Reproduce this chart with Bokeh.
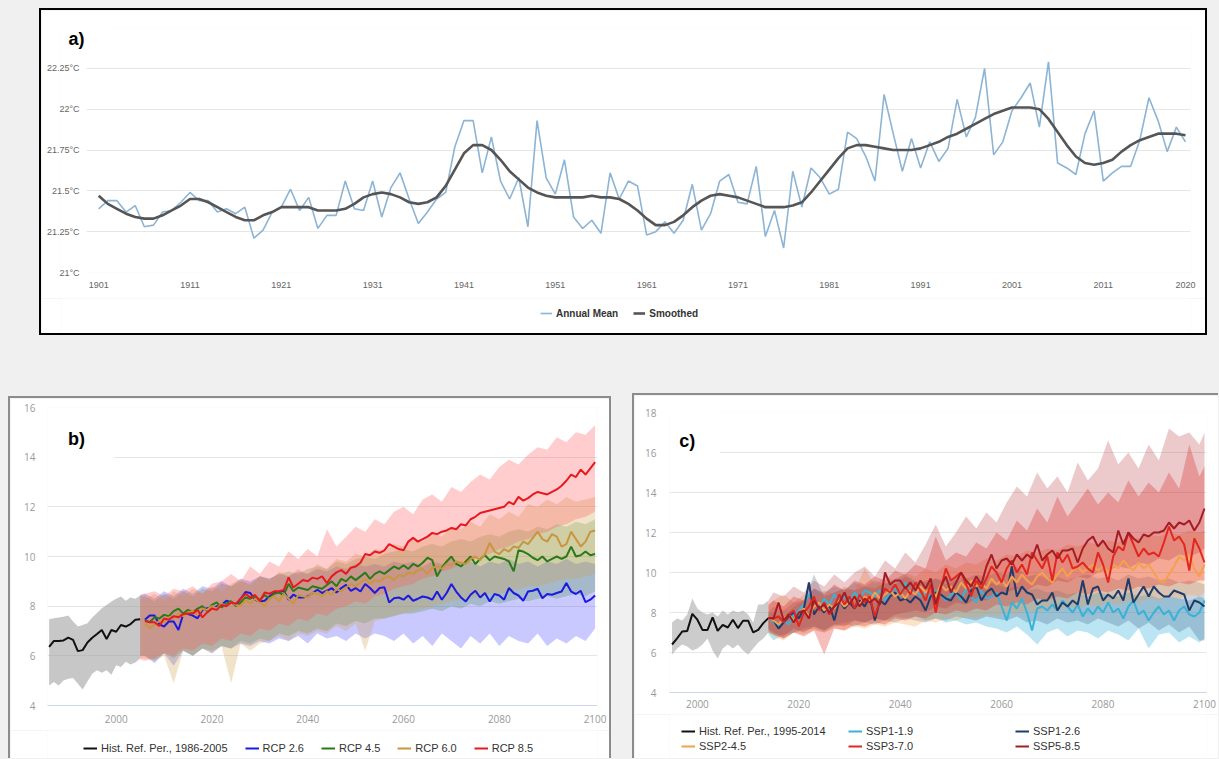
from bokeh.plotting import figure
from bokeh.layouts import column, row
from bokeh.models import (FixedTicker, Legend, LegendItem, Label, BoxAnnotation, Range1d,
                          GlobalInlineStyleSheet)
from bokeh.embed import file_html
from bokeh.resources import INLINE

# ---------------- Panel a data ----------------
years_a = list(range(1901, 2021))
annual_mean = [
    21.39, 21.44, 21.44, 21.37, 21.41, 21.28, 21.29, 21.37, 21.38, 21.43,
    21.49, 21.44, 21.44, 21.37, 21.39, 21.36, 21.40, 21.21, 21.26, 21.37,
    21.40, 21.51, 21.38, 21.46, 21.27, 21.35, 21.35, 21.56, 21.39, 21.38,
    21.56, 21.34, 21.52, 21.61, 21.45, 21.30, 21.37, 21.45, 21.49, 21.77,
    21.93, 21.93, 21.61, 21.83, 21.56, 21.45, 21.58, 21.28, 21.93, 21.58,
    21.48, 21.69, 21.34, 21.27, 21.32, 21.24, 21.61, 21.45, 21.56, 21.53,
    21.23, 21.25, 21.31, 21.24, 21.32, 21.54, 21.26, 21.36, 21.56, 21.60,
    21.43, 21.42, 21.65, 21.22, 21.38, 21.15, 21.62, 21.40, 21.64, 21.58,
    21.48, 21.51, 21.86, 21.82, 21.71, 21.56, 22.09, 21.85, 21.62, 21.82,
    21.64, 21.80, 21.68, 21.76, 22.06, 21.83, 21.95, 22.25, 21.72, 21.80,
    21.99, 22.07, 22.16, 21.89, 22.29, 21.67, 21.64, 21.60, 21.85, 21.99,
    21.56, 21.61, 21.65, 21.65, 21.81, 22.07, 21.93, 21.74, 21.89, 21.80]
smoothed = [
    21.47, 21.42, 21.39, 21.36, 21.34, 21.33, 21.33, 21.35, 21.38, 21.41,
    21.45, 21.45, 21.43, 21.40, 21.37, 21.34, 21.32, 21.32, 21.35, 21.37,
    21.40, 21.40, 21.40, 21.40, 21.38, 21.38, 21.38, 21.39, 21.42, 21.46,
    21.48, 21.49, 21.48, 21.46, 21.43, 21.42, 21.43, 21.46, 21.53, 21.63,
    21.73, 21.78, 21.78, 21.75, 21.69, 21.62, 21.57, 21.52, 21.49, 21.47,
    21.46, 21.46, 21.46, 21.46, 21.47, 21.46, 21.46, 21.45, 21.42, 21.38,
    21.33, 21.29, 21.29, 21.31, 21.35, 21.40, 21.44, 21.47, 21.48, 21.47,
    21.46, 21.44, 21.42, 21.40, 21.40, 21.40, 21.41, 21.43, 21.49, 21.56,
    21.63, 21.70, 21.76, 21.78, 21.78, 21.77, 21.76, 21.75, 21.75, 21.75,
    21.76, 21.78, 21.80, 21.83, 21.85, 21.88, 21.91, 21.94, 21.97, 21.99,
    22.01, 22.01, 22.01, 22.00, 21.94, 21.86, 21.78, 21.71, 21.67, 21.66,
    21.67, 21.69, 21.74, 21.78, 21.81, 21.83, 21.85, 21.85, 21.85, 21.84]
a_xticks = [1901, 1911, 1921, 1931, 1941, 1951, 1961, 1971, 1981, 1991, 2001, 2011, 2020]
a_yticks = [21, 21.25, 21.5, 21.75, 22, 22.25, 22.5]
a_ylabels = ["21°C", "21.25°C", "21.5°C", "21.75°C", "22°C", "22.25°C", ""]
a_names = ["Annual Mean", "Smoothed"]
a_colors = ["#8cb4d4", "#555555"]
a_widths = [1.6, 2.6]

# ---------------- Panel b data ----------------
hist_b_years = list(range(1986, 2006))
hist_b = [6.36, 6.60, 6.60, 6.62, 6.73, 6.64, 6.19, 6.23, 6.54, 6.73,
          6.88, 7.04, 6.68, 7.04, 6.97, 7.24, 7.18, 7.28, 7.45, 7.47]
hist_b_lo = [4.81, 4.95, 4.81, 5.01, 5.08, 5.11, 4.88, 4.64, 4.97, 5.28,
             5.42, 5.32, 5.42, 5.24, 5.62, 5.55, 5.76, 5.65, 5.73, 5.89]
hist_b_hi = [7.47, 7.51, 7.54, 7.57, 7.62, 7.38, 7.18, 7.24, 7.31, 7.54,
             7.72, 7.92, 8.05, 8.19, 8.30, 8.39, 8.22, 8.35, 8.30, 8.43]
rcp_years = list(range(2006, 2101))
rcp26 = [7.45, 7.62, 7.62, 7.27, 7.18, 7.38, 7.38, 7.04, 7.68, 7.68,
         7.62, 7.51, 7.85, 7.92, 7.92, 7.99, 8.05, 8.22, 8.16, 8.05,
         8.30, 8.57, 8.53, 8.26, 8.19, 8.22, 8.39, 8.53, 8.57, 8.62,
         8.26, 8.46, 8.35, 8.35, 8.39, 8.53, 8.66, 8.53, 8.62, 8.73,
         8.55, 8.73, 8.86, 8.62, 8.73, 8.59, 8.89, 8.73, 8.53, 8.73,
         8.76, 8.15, 8.32, 8.35, 8.26, 8.43, 8.22, 8.30, 8.39, 8.35,
         8.26, 8.59, 8.26, 8.53, 8.89, 8.59, 8.35, 8.19, 8.46, 8.62,
         8.35, 8.53, 8.19, 8.49, 8.43, 8.26, 8.73, 8.53, 8.43, 8.22,
         8.59, 8.62, 8.70, 8.32, 8.49, 8.46, 8.53, 8.59, 8.93, 8.59,
         8.49, 8.62, 8.16, 8.26, 8.43]
rcp45 = [7.45, 7.35, 7.55, 7.50, 7.65, 7.60, 7.80, 7.90, 7.70, 7.85,
         7.75, 7.90, 8.00, 7.80, 8.05, 8.15, 7.95, 8.10, 8.20, 8.00,
         8.15, 8.35, 8.30, 8.40, 8.25, 8.45, 8.30, 8.50, 8.55, 8.45,
         8.90, 8.60, 8.75, 8.70, 8.65, 8.80, 8.75, 8.70, 8.85, 9.00,
         8.80, 9.10, 9.00, 9.20, 9.05, 9.20, 9.35, 9.10, 9.30, 9.40,
         9.30, 9.45, 9.60, 9.50, 9.65, 9.50, 9.70, 9.60, 9.75, 9.95,
         9.85, 9.20, 9.55, 9.80, 10.00, 9.70, 9.60, 9.80, 10.00, 9.70,
         9.90, 10.05, 9.85, 10.00, 9.95, 9.90, 9.80, 9.40, 10.25, 10.20,
         10.10, 9.95, 9.85, 10.00, 9.80, 9.90, 10.00, 9.90, 10.00, 10.40,
         10.00, 10.05, 10.20, 10.05, 10.10]
rcp60 = [7.30, 7.10, 7.25, 7.40, 7.35, 7.55, 7.50, 7.70, 7.60, 7.75,
         7.80, 7.65, 7.90, 7.85, 8.00, 7.90, 8.10, 8.00, 8.15, 8.05,
         8.00, 8.25, 8.10, 8.30, 8.15, 8.00, 8.30, 8.40, 8.20, 8.50,
         8.30, 8.10, 8.45, 8.40, 8.35, 8.55, 8.50, 8.40, 8.60, 8.45,
         8.70, 8.60, 8.75, 8.90, 8.80, 8.95, 9.10, 8.90, 9.05, 9.00,
         9.15, 9.20, 9.05, 9.25, 9.20, 9.35, 9.30, 9.45, 9.50, 9.30,
         9.55, 9.60, 9.50, 9.70, 9.65, 9.80, 9.75, 9.70, 9.90, 10.00,
         9.85, 10.10, 10.55, 10.20, 10.10, 10.30, 10.20, 10.40, 10.35, 10.60,
         10.50, 10.75, 11.00, 10.70, 10.60, 10.90, 10.80, 10.40, 10.50, 11.00,
         10.70, 10.40, 10.60, 11.00, 11.05]
rcp85 = [7.40, 7.35, 7.35, 7.20, 7.50, 7.45, 7.60, 7.55, 7.68, 7.70,
         7.70, 7.85, 7.55, 7.75, 7.90, 7.85, 8.05, 8.00, 8.15, 8.10,
         8.30, 8.50, 8.35, 8.45, 8.20, 8.55, 8.50, 8.60, 8.60, 8.65,
         9.16, 8.75, 8.90, 9.05, 9.00, 9.15, 9.10, 9.20, 8.93, 9.20,
         9.36, 9.45, 9.30, 9.55, 9.60, 9.75, 10.10, 10.05, 10.20, 10.15,
         10.25, 10.50, 10.40, 10.30, 10.25, 10.60, 10.75, 10.60, 10.70, 10.80,
         10.95, 10.90, 11.00, 11.05, 11.15, 11.10, 11.30, 11.25, 11.50, 11.60,
         11.75, 11.80, 11.85, 11.90, 11.95, 12.00, 12.20, 12.10, 12.40, 12.25,
         12.35, 12.50, 12.60, 12.55, 12.50, 12.60, 12.70, 12.85, 13.05, 13.30,
         13.20, 13.50, 13.30, 13.55, 13.80]
rcp_band_years = [2005] + list(range(2006, 2101, 2))
rcp85_hi = [8.45, 8.5, 8.6, 8.4, 8.7, 8.6, 8.8, 8.5, 8.9, 9.0, 9.3, 9.0, 9.6, 9.3, 9.8, 9.6, 10.2, 9.9, 10.3, 10.0, 11.1,
            10.4, 10.8, 11.2, 11.0, 11.5, 11.3, 11.8, 12.0, 11.7, 12.3,
            12.5, 12.2, 12.8, 12.6, 13.0, 13.3, 13.1, 13.6, 13.9, 13.7,
            14.1, 14.4, 14.3, 14.8, 14.6, 15.0, 14.9, 15.3]
rcp85_lo = [5.85, 5.8, 5.9, 6.1, 6.0, 6.3, 6.2, 6.5, 6.4, 6.7, 6.6, 6.9, 6.8, 7.1, 7.0, 7.3, 7.2, 7.5, 7.4, 7.7, 7.6,
            7.9, 8.0, 8.2, 8.1, 8.4, 8.5, 8.7, 8.8, 8.9, 9.1,
            9.2, 9.4, 9.5, 9.7, 9.8, 10.0, 10.1, 10.3, 10.4, 10.6,
            10.7, 10.9, 11.0, 11.2, 11.3, 11.5, 11.6, 11.8]
rcp60_hi = [8.3, 8.3, 8.5, 8.2, 8.6, 8.4, 8.7, 8.5, 8.8, 8.6, 8.9, 9.1, 8.8, 9.2, 9.0, 9.4, 9.2, 9.5, 9.3, 9.7, 9.5,
            9.9, 9.8, 10.1, 10.0, 10.3, 10.2, 10.5, 10.4, 10.7, 10.6,
            11.0, 10.8, 11.2, 11.1, 11.4, 11.2, 11.7, 11.5, 11.8, 11.6,
            12.1, 12.0, 12.3, 12.1, 12.4, 12.2, 12.3, 12.4]
rcp60_lo = [5.9, 5.9, 5.8, 6.0, 4.9, 6.2, 6.0, 6.3, 6.1, 6.4, 4.9, 6.5, 6.2, 6.5, 6.6, 6.8, 6.6, 6.9, 6.8, 7.0, 6.9,
            7.2, 7.0, 7.3, 6.2, 7.4, 7.5, 7.6, 7.7, 7.8, 7.9,
            8.0, 8.1, 8.2, 8.3, 8.3, 8.4, 8.5, 8.5, 8.6, 8.7,
            8.8, 8.8, 8.9, 9.0, 9.1, 9.1, 9.2, 9.3]
rcp45_hi = [8.4, 8.4, 8.2, 8.5, 8.3, 8.6, 8.4, 8.7, 8.6, 8.9, 8.8, 9.0, 8.9, 9.2, 9.1, 9.3, 9.4, 9.3, 9.5, 9.6, 9.5,
            9.8, 9.7, 9.9, 10.0, 9.9, 10.1, 10.2, 10.3, 10.2, 10.4,
            10.5, 10.4, 10.6, 10.7, 10.6, 10.8, 10.9, 10.8, 11.0, 11.1,
            11.0, 11.2, 11.1, 11.3, 11.2, 11.4, 11.3, 11.5]
rcp45_lo = [6.0, 6.0, 5.8, 6.1, 5.9, 6.2, 6.0, 6.3, 6.2, 6.4, 6.3, 6.6, 6.5, 6.7, 6.6, 6.9, 6.8, 7.0, 6.9, 7.1, 7.0,
            7.3, 7.2, 7.4, 7.3, 7.5, 7.5, 7.6, 7.7, 7.7, 7.8,
            7.9, 7.8, 8.0, 7.9, 8.1, 8.0, 8.2, 8.1, 8.2, 8.3,
            8.2, 8.3, 8.4, 8.3, 8.4, 8.5, 8.4, 8.6]
rcp26_hi = [8.45, 8.5, 8.3, 8.6, 8.4, 8.7, 8.5, 8.8, 8.7, 9.0, 8.8, 9.1, 9.0, 9.2, 9.1, 9.3, 9.2, 9.4, 9.3, 9.5, 9.4,
            9.6, 9.5, 9.7, 9.6, 9.7, 9.6, 9.8, 9.7, 9.8, 9.6,
            9.8, 9.7, 9.9, 9.7, 9.8, 9.6, 9.8, 9.7, 9.9, 9.7,
            9.8, 9.6, 9.8, 9.7, 9.9, 9.7, 9.8, 9.7]
rcp26_lo = [6.0, 6.0, 5.7, 6.1, 5.6, 6.2, 6.0, 6.3, 6.1, 6.4, 6.3, 6.5, 6.4, 6.6, 6.5, 6.7, 6.6, 6.8, 6.5, 6.9, 6.7,
            6.8, 6.6, 6.9, 6.7, 6.9, 6.8, 6.6, 6.9, 6.5, 6.8,
            6.4, 6.9, 6.6, 6.3, 6.8, 6.5, 6.9, 6.4, 6.8, 6.6,
            6.5, 6.9, 6.4, 6.7, 6.5, 6.8, 6.6, 7.1]
b_xticks = [2000, 2020, 2040, 2060, 2080, 2100]
b_yticks = [4, 6, 8, 10, 12, 14, 16]
b_names = ["Hist. Ref. Per., 1986-2005", "RCP 2.6", "RCP 4.5", "RCP 6.0", "RCP 8.5"]
b_colors = ["#111111", "#1a1ae0", "#2b7a18", "#c9963e", "#e8191e"]
b_band_colors = ["#999999", "#4b4bff", "#3a8a2a", "#d2a050", "#ff5a5a"]
b_band_alphas = [0.55, 0.3, 0.25, 0.3, 0.3]

# ---------------- Panel c data ----------------
hist_c_years = list(range(1995, 2015))
hist_c = [6.40, 6.71, 7.05, 7.08, 7.93, 7.64, 7.13, 7.13, 7.76, 7.08,
          7.38, 7.25, 7.64, 7.22, 7.59, 7.59, 7.01, 7.13, 7.47, 7.72]
hist_c_lo = [5.9, 6.2, 6.4, 6.3, 6.1, 6.2, 6.4, 6.7, 6.1, 5.7, 6.2, 6.4, 6.2, 6.4, 6.1, 5.9, 6.2, 6.5, 6.7, 7.0]
hist_c_hi = [7.5, 7.7, 7.6, 7.9, 8.7, 8.2, 8.0, 7.9, 8.0, 7.8, 8.1, 7.9, 8.1, 8.0, 8.1, 7.9, 7.5, 8.4, 8.4, 8.6]
ssp_years = list(range(2014, 2101))
ssp119 = [7.72, 7.5, 7.3, 7.6, 7.4, 7.9, 8.1, 8.4, 8.9, 8.6, 8.2,
          8.7, 8.4, 8.9, 8.5, 8.8, 8.6, 9.0, 8.7, 9.1, 9.0,
          8.8, 9.1, 8.6, 9.0, 9.2, 8.8, 9.5, 8.9, 9.2, 8.8,
          9.0, 8.7, 9.1, 8.9, 8.6, 8.9, 9.0, 8.6, 9.2, 8.8,
          8.5, 9.1, 8.7, 8.8, 9.0, 8.3, 7.6, 8.5, 8.2, 8.7,
          8.0, 7.1, 8.2, 8.3, 8.1, 8.4, 8.1, 8.6, 8.3, 8.0,
          8.4, 7.8, 8.2, 7.9, 8.3, 8.0, 8.5, 8.0, 8.2, 7.7,
          8.3, 8.6, 7.9, 8.1, 7.6, 8.0, 8.3, 7.9, 8.1, 7.6,
          8.1, 8.3, 7.9, 7.8, 8.0, 8.6]
ssp126 = [7.72, 7.6, 7.2, 7.5, 7.8, 8.0, 7.7, 8.2, 9.5, 7.9, 8.3,
          8.0, 8.4, 7.6, 8.6, 8.2, 8.5, 8.2, 8.6, 8.3, 8.8,
          7.6, 8.6, 8.4, 8.8, 9.0, 8.6, 8.7, 8.5, 8.8, 8.6,
          8.1, 8.8, 9.0, 8.9, 8.7, 8.6, 9.0, 8.8, 8.5, 9.1,
          9.3, 8.6, 9.0, 9.2, 8.8, 9.0, 8.9, 10.3, 8.8, 9.3,
          9.0, 8.9, 8.4, 8.6, 8.6, 9.0, 8.1, 8.5, 8.3, 8.6,
          8.4, 9.6, 8.4, 9.2, 9.3, 8.6, 8.9, 8.7, 9.1, 8.6,
          9.7, 8.5, 8.9, 9.3, 8.8, 9.3, 9.0, 8.8, 8.8, 9.1,
          9.0, 8.9, 8.1, 8.6, 8.5, 8.3]
ssp245 = [7.72, 7.6, 7.4, 7.7, 7.9, 7.6, 8.0, 8.2, 7.8, 8.3, 8.5,
          8.1, 8.4, 8.2, 8.6, 8.3, 8.5, 8.7, 8.4, 8.8, 8.6,
          9.0, 8.7, 8.9, 9.1, 8.8, 9.0, 8.7, 9.1, 8.9, 9.3,
          9.0, 9.2, 8.8, 9.4, 9.1, 9.3, 9.0, 9.5, 9.2, 9.6,
          9.3, 9.5, 9.2, 9.7, 9.4, 9.6, 9.3, 9.8, 9.5, 9.9,
          9.6, 9.4, 9.8, 10.0, 9.7, 9.5, 9.9, 10.2, 9.8, 10.1,
          10.3, 10.0, 10.2, 10.4, 10.1, 10.3, 10.0, 10.4, 10.2, 10.6,
          10.3, 10.1, 10.5, 10.2, 10.4, 10.0, 9.6, 9.5, 9.9, 10.3,
          10.8, 10.6, 10.9, 10.2, 9.8, 10.4]
ssp370 = [7.72, 7.7, 7.8, 7.5, 7.9, 8.1, 7.3, 8.0, 8.3, 8.8, 8.1,
          8.5, 7.9, 8.3, 8.9, 8.4, 8.8, 8.2, 8.9, 8.5, 8.8,
          7.8, 8.6, 9.2, 9.0, 9.4, 8.9, 9.3, 8.9, 9.5, 9.1,
          8.6, 9.4, 8.0, 9.2, 10.2, 9.6, 9.8, 10.0, 9.4, 8.8,
          9.6, 9.2, 9.7, 10.3, 10.0, 9.5, 10.2, 10.6, 10.0, 10.4,
          9.9, 11.0, 10.6, 10.2, 10.8, 9.6, 11.0, 10.5, 10.9, 10.2,
          10.3, 10.5, 10.2, 10.0, 11.0, 10.4, 9.5, 10.8, 11.3, 11.1,
          12.0, 11.4, 10.8, 11.2, 10.9, 11.0, 10.8, 11.5, 12.3, 11.6,
          11.8, 11.4, 10.1, 11.7, 11.2, 10.5]
ssp585 = [7.72, 7.7, 8.5, 7.6, 7.9, 7.5, 8.0, 8.1, 7.7, 8.6, 8.2,
          8.4, 8.0, 8.3, 8.5, 9.0, 8.4, 8.8, 8.3, 8.7, 8.5,
          8.7, 8.4, 10.0, 9.4, 9.6, 9.6, 9.2, 9.5, 9.1, 9.6,
          9.2, 9.7, 8.4, 9.3, 9.8, 9.0, 9.5, 10.0, 9.6, 9.3,
          9.8, 9.4, 10.3, 10.9, 10.2, 10.6, 10.7, 10.4, 10.9, 10.6,
          10.9, 10.7, 11.4, 10.6, 10.9, 11.1, 10.7, 11.1, 11.1, 11.2,
          10.5, 11.2, 11.6, 11.8, 11.3, 11.6, 11.2, 11.0, 12.1, 11.4,
          12.0, 11.7, 11.5, 11.9, 11.8, 12.0, 12.0, 12.1, 12.5, 12.2,
          12.5, 12.4, 12.6, 12.1, 12.5, 13.2]
ssp_band_years = [2014] + list(range(2015, 2100, 2)) + [2100]
ssp585_hi = [8.6, 9.0, 8.8, 9.3, 9.0, 9.6, 9.3, 9.9, 9.5, 10.0, 10.3, 9.8, 10.6, 10.2, 11.0, 10.5, 11.4, 12.4, 11.3, 12.0, 12.8,
             12.2, 13.0, 12.5, 13.5, 14.3, 13.8, 15.0, 14.2, 14.8, 14.0, 15.5, 14.6, 15.2, 16.6, 15.4, 16.0, 15.2, 16.4,
             15.6, 17.2, 16.8, 17.0, 16.4, 17.0]
ssp585_lo = [7.2, 7.0, 6.8, 7.2, 7.0, 7.3, 7.1, 7.4, 7.3, 7.6, 7.5, 7.7, 7.6, 7.9, 8.0, 8.1, 8.0, 8.3, 8.2, 8.5, 8.4,
             8.7, 8.6, 8.9, 9.0, 9.2, 9.1, 9.4, 9.3, 9.6, 9.5, 9.8, 9.7, 10.0, 10.1, 10.3, 10.2, 10.5, 10.4,
             10.7, 10.6, 10.9, 10.8, 11.0, 11.2]
ssp370_hi = [8.4, 8.6, 8.3, 8.8, 8.6, 9.2, 8.9, 9.4, 9.1, 9.6, 9.4, 9.8, 9.6, 10.1, 9.9, 10.4, 10.2, 11.8, 10.6, 11.0, 10.8,
             11.5, 11.2, 12.0, 11.6, 12.6, 12.1, 13.2, 12.5, 13.8, 12.8, 13.5, 14.2, 13.4, 14.0, 13.5, 14.6, 13.8, 14.5,
             14.0, 15.0, 14.2, 16.4, 14.8, 15.3]
ssp370_lo = [7.0, 6.9, 6.7, 7.0, 6.8, 7.1, 5.9, 7.2, 7.1, 7.4, 7.3, 7.5, 7.4, 7.7, 7.6, 7.8, 7.7, 8.0, 7.9, 8.1, 8.0,
             8.2, 8.1, 8.4, 8.3, 8.5, 8.4, 8.7, 8.6, 8.8, 8.7, 9.0, 8.9, 9.1, 9.0, 9.2, 9.1, 9.3, 9.2,
             9.4, 9.3, 9.5, 9.4, 9.6, 9.6]
ssp245_hi = [8.3, 8.6, 8.9, 8.5, 8.9, 8.7, 9.1, 8.9, 9.3, 9.1, 10.2, 9.4, 9.8, 9.6, 10.0, 9.8, 10.2, 10.0, 10.4, 10.2, 10.5,
             10.4, 10.7, 10.6, 10.9, 10.8, 11.1, 11.0, 11.2, 11.1, 11.4, 11.3, 11.5, 11.4, 11.6, 11.5, 11.8, 11.7, 11.9,
             11.8, 12.0, 11.9, 12.1, 12.0, 12.1]
ssp245_lo = [7.0, 6.8, 6.6, 7.0, 6.9, 7.1, 7.0, 7.2, 7.1, 7.3, 7.2, 7.4, 7.3, 7.5, 7.4, 7.3, 7.6, 7.5, 7.7, 7.6, 7.8,
             7.7, 7.9, 7.8, 8.0, 7.9, 8.1, 8.0, 8.2, 8.1, 8.3, 8.2, 8.4, 8.3, 8.5, 8.4, 8.6, 8.5, 8.7,
             8.6, 8.8, 8.7, 8.9, 8.8, 9.0]
ssp126_hi = [8.0, 8.3, 8.1, 8.5, 8.6, 9.9, 8.8, 9.0, 9.2, 9.1, 9.3, 9.2, 9.5, 9.4, 9.8, 9.5, 9.6, 9.7, 9.6, 9.8, 9.7,
             9.9, 9.8, 10.0, 9.9, 10.3, 9.8, 9.9, 9.7, 9.8, 9.6, 9.8, 9.9, 9.7, 9.8, 9.6, 9.9, 9.7, 9.8,
             9.6, 9.7, 9.5, 9.6, 9.5, 9.4]
ssp126_lo = [7.1, 6.9, 6.7, 7.0, 7.1, 7.2, 7.0, 7.3, 7.4, 7.3, 7.5, 7.4, 7.6, 7.5, 7.7, 7.6, 7.5, 7.7, 7.6, 7.8, 7.7,
             7.6, 7.8, 7.7, 7.6, 7.8, 7.5, 7.6, 7.4, 7.7, 7.5, 7.6, 7.4, 7.7, 7.5, 7.3, 7.6, 7.2, 7.5,
             7.1, 7.4, 7.0, 7.3, 6.6, 6.6]
ssp119_hi = [7.9, 8.0, 7.8, 8.3, 8.6, 9.2, 9.0, 9.3, 9.1, 9.5, 9.3, 9.6, 9.4, 9.7, 9.9, 9.6, 9.5, 9.7, 9.4, 9.6, 9.5,
             9.3, 9.5, 9.4, 9.2, 9.3, 9.1, 9.2, 9.0, 9.1, 8.9, 9.0, 8.8, 9.0, 8.9, 8.8, 9.0, 8.8, 8.9,
             8.7, 8.8, 8.7, 8.6, 8.8, 8.7]
ssp119_lo = [6.9, 6.6, 6.9, 7.0, 7.2, 7.3, 7.1, 7.4, 7.5, 7.6, 7.5, 7.7, 7.6, 7.8, 7.7, 7.8, 7.6, 7.7, 7.5, 7.6, 7.4,
             7.5, 7.3, 7.2, 7.0, 7.3, 6.9, 6.4, 7.0, 7.2, 6.8, 7.1, 7.0, 6.7, 7.1, 6.9, 6.6, 7.2, 6.2,
             6.9, 7.0, 6.5, 6.8, 6.5, 6.7]
c_xticks = [2000, 2020, 2040, 2060, 2080, 2100]
c_yticks = [4, 6, 8, 10, 12, 14, 16, 18]
c_names = ["Hist. Ref. Per., 1995-2014", "SSP1-1.9", "SSP1-2.6", "SSP2-4.5", "SSP3-7.0", "SSP5-8.5"]
c_colors = ["#111111", "#39b2d6", "#1f3c6b", "#f3a14c", "#e3261f", "#a41d24"]
c_band_colors = ["#999999", "#3cb4dc", "#1f3c6b", "#f4a04a", "#e3261f", "#b4282e"]
c_band_alphas = [0.5, 0.35, 0.22, 0.3, 0.3, 0.25]

GRID = "#e6e6e6"
GRAY_BORDER = "2px solid #8c8c8c"


def base_fig(w, h, xr, yr, mb, styles, margin):
    p = figure(width=w, height=h, x_range=Range1d(*xr), y_range=Range1d(*yr),
               output_backend="svg", toolbar_location=None,
               min_border_left=mb[0], min_border_right=mb[1],
               min_border_top=mb[2], min_border_bottom=mb[3],
               background_fill_color="white", border_fill_color="white",
               outline_line_color=None, styles=styles, margin=margin)
    p.xgrid.grid_line_color = None
    p.ygrid.grid_line_color = GRID
    for ax in (p.xaxis[0], p.yaxis[0]):
        ax.axis_line_color = None
        ax.major_tick_line_color = None
        ax.minor_tick_line_color = None
    return p


def legend_fig(w, h, styles, margin, names, colors, widths, loc, font_size,
               bold=False, ncols=None, label_width=20, spacing=16, glyph_width=14):
    # a strip under the chart that only carries its legend; the proxy lines lie outside its range
    lf = figure(width=w, height=h, x_range=Range1d(0, 1), y_range=Range1d(0, 1),
                output_backend="svg", toolbar_location=None,
                x_axis_location=None, y_axis_location=None, min_border=0,
                background_fill_color="white", border_fill_color="white",
                outline_line_color=None, styles=styles, margin=margin)
    lf.grid.visible = False
    items = []
    for name, col, lw in zip(names, colors, widths):
        r = lf.line([-3, -2], [-3, -2], line_color=col, line_width=lw)
        items.append(LegendItem(label=name, renderers=[r]))
    kw = dict(items=items, location=loc, orientation="horizontal",
              label_text_font="Liberation Sans", label_text_font_size=font_size,
              label_text_color="#333333",
              glyph_width=glyph_width, glyph_height=12, label_height=12, label_standoff=4,
              label_width=label_width, spacing=spacing, padding=0, margin=0,
              border_line_color=None, background_fill_alpha=0)
    if bold:
        kw["label_text_font_style"] = "bold"
    if ncols:
        kw["ncols"] = ncols
    lf.add_layout(Legend(**kw))
    return lf


# ---------------- Panel a ----------------
A_X0 = 1896.82
p_a = base_fig(1168, 290, (A_X0, 2020.55), (21, 22.5), (19, 19, 17, 28),
               {"border-left": "2px solid #000000", "border-right": "2px solid #000000",
                "border-top": "2px solid #000000"}, (8, 0, 0, 39))
p_a.xaxis.ticker = FixedTicker(ticks=a_xticks)
p_a.yaxis.ticker = FixedTicker(ticks=a_yticks)
p_a.yaxis.major_label_overrides = {t: l for t, l in zip(a_yticks, a_ylabels)}
for ax in (p_a.xaxis[0], p_a.yaxis[0]):
    ax.major_label_text_font = "Liberation Sans"
    ax.major_label_text_font_size = "9px"
    ax.major_label_text_color = "#666666"
p_a.xaxis.major_label_standoff = 3
p_a.yaxis.major_label_standoff = -25
# white strips hiding the gridlines left of the data area and behind "a)"
p_a.add_layout(BoxAnnotation(left=A_X0, right=1899.68, bottom=20.9, top=22.7, level="underlay",
                             fill_color="white", fill_alpha=1, line_alpha=0))
p_a.add_layout(BoxAnnotation(left=A_X0, right=1902.4, bottom=22.38, top=22.7, level="underlay",
                             fill_color="white", fill_alpha=1, line_alpha=0))
p_a.line(years_a, annual_mean, line_color=a_colors[0], line_width=a_widths[0])
p_a.line(years_a, smoothed, line_color=a_colors[1], line_width=a_widths[1])
p_a.add_layout(Label(x=1897.7, y=22.43, text="a)", text_font="Liberation Sans",
                     text_font_size="18px", text_font_style="bold", text_baseline="middle",
                     text_color="#000000"))
leg_a = legend_fig(1168, 37, {"border-left": "2px solid #000000", "border-right": "2px solid #000000",
                              "border-bottom": "2px solid #000000"}, (0, 0, 0, 39),
                   a_names, a_colors, a_widths, (480, 16), "10px", bold=True, spacing=15,
                   glyph_width=12)
col_a = column(p_a, leg_a, spacing=0)

# ---------------- Panel b ----------------
p_b = base_fig(603, 334, (1985.66, 2100.5), (4, 16), (37, 16, 9, 27),
               {"border-left": GRAY_BORDER, "border-right": GRAY_BORDER, "border-top": GRAY_BORDER},
               (3, 0, 0, 8))
p_b.xaxis.ticker = FixedTicker(ticks=b_xticks)
p_b.yaxis.ticker = FixedTicker(ticks=b_yticks)
p_b.xaxis.axis_line_color = "#ccd6eb"
for ax in (p_b.xaxis[0], p_b.yaxis[0]):
    ax.major_label_text_font = "Open Sans"
    ax.major_label_text_font_size = "10px"
    ax.major_label_text_color = "#999999"
p_b.xaxis.major_label_standoff = 3
p_b.yaxis.major_label_standoff = 6

b_bands = [(hist_b_years, hist_b_lo, hist_b_hi), (rcp_band_years, rcp26_lo, rcp26_hi),
           (rcp_band_years, rcp45_lo, rcp45_hi), (rcp_band_years, rcp60_lo, rcp60_hi),
           (rcp_band_years, rcp85_lo, rcp85_hi)]
for (xs, lo, hi), col, al in zip(b_bands, b_band_colors, b_band_alphas):
    p_b.varea(xs, lo, hi, fill_color=col, fill_alpha=al)
b_lines = [(hist_b_years, hist_b), (rcp_years, rcp26), (rcp_years, rcp45),
           (rcp_years, rcp60), (rcp_years, rcp85)]
for (xs, ys), col in zip(b_lines, b_colors):
    p_b.line(xs, ys, line_color=col, line_width=2)
p_b.add_layout(BoxAnnotation(left=1985.66, right=1999.6, bottom=13.3, top=15.2,
                             fill_color="white", fill_alpha=1, line_alpha=0))
p_b.add_layout(Label(x=1989.96, y=14.74, text="b)", text_font="Liberation Sans",
                     text_font_size="18px", text_font_style="bold", text_baseline="middle",
                     text_color="#000000"))
leg_b = legend_fig(603, 28, {"border-left": GRAY_BORDER, "border-right": GRAY_BORDER}, (0, 0, 0, 8),
                   b_names, b_colors, [2] * 5, (36, 4), "11px", spacing=17)
col_b = column(p_b, leg_b, spacing=0)

# ---------------- Panel c ----------------
p_c = base_fig(586, 321, (1994.5, 2100.4), (4, 18), (35, 14, 17, 24),
               {"border-left": GRAY_BORDER, "border-top": GRAY_BORDER}, (0, 0, 0, 0))
p_c.xaxis.ticker = FixedTicker(ticks=c_xticks)
p_c.yaxis.ticker = FixedTicker(ticks=c_yticks)
p_c.xaxis.axis_line_color = "#ccd6eb"
for ax in (p_c.xaxis[0], p_c.yaxis[0]):
    ax.major_label_text_font = "Open Sans"
    ax.major_label_text_font_size = "10px"
    ax.major_label_text_color = "#999999"
p_c.xaxis.major_label_standoff = 1
p_c.yaxis.major_label_standoff = 7

c_bands = [(hist_c_years, hist_c_lo, hist_c_hi), (ssp_band_years, ssp119_lo, ssp119_hi),
           (ssp_band_years, ssp126_lo, ssp126_hi), (ssp_band_years, ssp245_lo, ssp245_hi),
           (ssp_band_years, ssp370_lo, ssp370_hi), (ssp_band_years, ssp585_lo, ssp585_hi)]
for (xs, lo, hi), col, al in zip(c_bands, c_band_colors, c_band_alphas):
    p_c.varea(xs, lo, hi, fill_color=col, fill_alpha=al)
c_lines = [(hist_c_years, hist_c), (ssp_years, ssp119), (ssp_years, ssp126),
           (ssp_years, ssp245), (ssp_years, ssp370), (ssp_years, ssp585)]
for (xs, ys), col in zip(c_lines, c_colors):
    p_c.line(xs, ys, line_color=col, line_width=2)
p_c.add_layout(BoxAnnotation(left=1994.5, right=2004.4, bottom=15.3, top=18.6,
                             fill_color="white", fill_alpha=1, line_alpha=0))
p_c.add_layout(Label(x=1996.4, y=16.59, text="c)", text_font="Liberation Sans",
                     text_font_size="18px", text_font_style="bold", text_baseline="middle",
                     text_color="#000000"))
leg_c = legend_fig(586, 44, {"border-left": GRAY_BORDER}, (0, 0, 0, 0),
                   c_names, c_colors, [2] * 6, (12, 6), "11px", ncols=3,
                   label_width=146, spacing=3)
col_c = column(p_c, leg_c, spacing=0)

root = column(col_a, row(col_b, col_c, spacing=21), spacing=58)
root.stylesheets = [GlobalInlineStyleSheet(css="body { background-color: #f0f0f0; }")]

open("out.html", "w").write(file_html(root, INLINE))
